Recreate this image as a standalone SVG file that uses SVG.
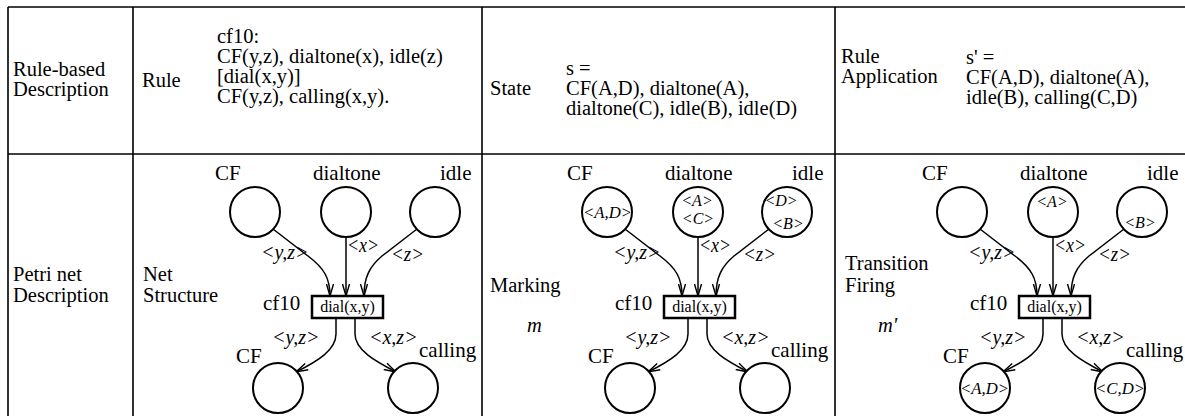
<svg xmlns="http://www.w3.org/2000/svg" width="1185" height="416" viewBox="0 0 1185 416">
<style>
text{font-family:"Liberation Serif","Times New Roman",serif;fill:#000}
.t{font-size:20.5px}
.lb{font-size:21px}
.el{font-size:20px;font-style:italic}
.tk{font-size:16px;font-style:italic}
.bx{font-size:16px}
.grid{stroke:#000;stroke-width:1.6;fill:none}
.pl{fill:#fff;stroke:#000;stroke-width:2}
.tr{fill:#fff;stroke:#000;stroke-width:2.5}
.arc{fill:none;stroke:#000;stroke-width:1.5;marker-end:url(#ah)}
</style>
<defs>
<marker id="ah" viewBox="-13 -6 15 12" refX="0" refY="0" markerWidth="15" markerHeight="12" orient="auto" markerUnits="userSpaceOnUse"><path d="M-12,-3.5 L0,0 L-12,3.5" fill="none" stroke="#000" stroke-width="1.4"/></marker>
</defs>
<g id="table">
<path class="grid" d="M8 7H1185" stroke-width="3"/>
<path class="grid" d="M8 7V416M133 7V416M482 7V416M835 7V416M8 154H1185"/>
</g>
<g id="row1">
<text class="t" x="13" y="76">Rule-based</text>
<text class="t" x="13" y="96">Description</text>
<text class="t" x="142" y="87">Rule</text>
<text class="t" x="217" y="43">cf10:</text>
<text class="t" x="217" y="63">CF(y,z), dialtone(x), idle(z)</text>
<text class="t" x="217" y="83">[dial(x,y)]</text>
<text class="t" x="217" y="103">CF(y,z), calling(x,y).</text>
<text class="t" x="490" y="95">State</text>
<text class="t" x="566" y="75">s =</text>
<text class="t" x="566" y="95">CF(A,D), dialtone(A),</text>
<text class="t" x="566" y="115">dialtone(C), idle(B), idle(D)</text>
<text class="t" x="841" y="63">Rule</text>
<text class="t" x="841" y="83">Application</text>
<text class="t" x="966" y="64">s' =</text>
<text class="t" x="966" y="84">CF(A,D), dialtone(A),</text>
<text class="t" x="966" y="104">idle(B), calling(C,D)</text>
</g>
<g id="row2-labels">
<text class="t" x="13" y="281">Petri net</text>
<text class="t" x="13" y="302">Description</text>
<text class="t" x="143" y="281">Net</text>
<text class="t" x="143" y="302">Structure</text>
<text class="t" x="490" y="292">Marking</text>
<text class="t" x="527" y="332" font-style="italic" font-size="20">m</text>
<text class="t" x="845" y="270">Transition</text>
<text class="t" x="845" y="292">Firing</text>
<text class="t" x="878" y="332" font-style="italic" font-size="20">m'</text>
</g>
<!-- Panel 1 -->
<g id="panel1" transform="translate(-352,0)">
<g id="p1-connectors">
<path class="arc" d="M625 229L660 256C676 268 682 278 682 296"/>
<path class="arc" d="M698 237L698 296"/>
<path class="arc" d="M769 229L734 256C721 267 716 278 716 296"/>
<path class="arc" d="M688 318L688 334C688 350 670 361 648 372"/>
<path class="arc" d="M707 318L707 334C707 350 727 361 748 372"/>
<text class="el" x="613" y="259">&lt;y,z&gt;</text>
<text class="el" x="699" y="252" textLength="32" lengthAdjust="spacingAndGlyphs">&lt;x&gt;</text>
<text class="el" x="743" y="261" textLength="33" lengthAdjust="spacingAndGlyphs">&lt;z&gt;</text>
<text class="el" x="624" y="344">&lt;y,z&gt;</text>
<text class="el" x="721" y="344">&lt;x,z&gt;</text>
</g>
<g id="p1-cf-in"><circle class="pl" cx="607" cy="212" r="25"/><text class="lb" x="567" y="180">CF</text></g>
<g id="p1-dialtone"><circle class="pl" cx="698" cy="212" r="25"/><text class="lb" x="665" y="180">dialtone</text></g>
<g id="p1-idle"><circle class="pl" cx="787" cy="212" r="25"/><text class="lb" x="792" y="180">idle</text></g>
<g id="p1-cf10"><rect class="tr" x="664" y="296" width="71" height="22"/><text class="bx" x="699.5" y="312" text-anchor="middle">dial(x,y)</text><text class="lb" x="615" y="310">cf10</text></g>
<g id="p1-cf-out"><circle class="pl" cx="630" cy="388" r="25"/><text class="lb" x="588" y="363">CF</text></g>
<g id="p1-calling"><circle class="pl" cx="765" cy="388" r="25"/><text class="lb" x="771" y="357">calling</text></g>
</g>
<!-- Panel 2 -->
<g id="panel2">
<g id="p2-connectors">
<path class="arc" d="M625 229L660 256C676 268 682 278 682 296"/>
<path class="arc" d="M698 237L698 296"/>
<path class="arc" d="M769 229L734 256C721 267 716 278 716 296"/>
<path class="arc" d="M688 318L688 334C688 350 670 361 648 372"/>
<path class="arc" d="M707 318L707 334C707 350 727 361 748 372"/>
<text class="el" x="613" y="259">&lt;y,z&gt;</text>
<text class="el" x="699" y="252" textLength="32" lengthAdjust="spacingAndGlyphs">&lt;x&gt;</text>
<text class="el" x="743" y="261" textLength="33" lengthAdjust="spacingAndGlyphs">&lt;z&gt;</text>
<text class="el" x="624" y="344">&lt;y,z&gt;</text>
<text class="el" x="721" y="344">&lt;x,z&gt;</text>
</g>
<g id="p2-cf-in"><circle class="pl" cx="607" cy="212" r="25"/><text class="lb" x="567" y="180">CF</text><text class="tk" x="583" y="218" textLength="49" lengthAdjust="spacingAndGlyphs">&lt;A,D&gt;</text></g>
<g id="p2-dialtone"><circle class="pl" cx="698" cy="212" r="25"/><text class="lb" x="665" y="180">dialtone</text><text class="tk" x="697" y="206" text-anchor="middle">&lt;A&gt;</text><text class="tk" x="698" y="224" text-anchor="middle">&lt;C&gt;</text></g>
<g id="p2-idle"><circle class="pl" cx="787" cy="212" r="25"/><text class="lb" x="792" y="180">idle</text><text class="tk" x="781" y="206" text-anchor="middle">&lt;D&gt;</text><text class="tk" x="788" y="229" text-anchor="middle">&lt;B&gt;</text></g>
<g id="p2-cf10"><rect class="tr" x="664" y="296" width="71" height="22"/><text class="bx" x="699.5" y="312" text-anchor="middle">dial(x,y)</text><text class="lb" x="615" y="310">cf10</text></g>
<g id="p2-cf-out"><circle class="pl" cx="630" cy="388" r="25"/><text class="lb" x="588" y="363">CF</text></g>
<g id="p2-calling"><circle class="pl" cx="765" cy="388" r="25"/><text class="lb" x="771" y="357">calling</text></g>
</g>
<!-- Panel 3 -->
<g id="panel3" transform="translate(355,0)">
<g id="p3-connectors">
<path class="arc" d="M625 229L660 256C676 268 682 278 682 296"/>
<path class="arc" d="M698 237L698 296"/>
<path class="arc" d="M769 229L734 256C721 267 716 278 716 296"/>
<path class="arc" d="M688 318L688 334C688 350 670 361 648 372"/>
<path class="arc" d="M707 318L707 334C707 350 727 361 748 372"/>
<text class="el" x="613" y="259">&lt;y,z&gt;</text>
<text class="el" x="699" y="252" textLength="32" lengthAdjust="spacingAndGlyphs">&lt;x&gt;</text>
<text class="el" x="743" y="261" textLength="33" lengthAdjust="spacingAndGlyphs">&lt;z&gt;</text>
<text class="el" x="624" y="344">&lt;y,z&gt;</text>
<text class="el" x="721" y="344">&lt;x,z&gt;</text>
</g>
<g id="p3-cf-in"><circle class="pl" cx="607" cy="212" r="25"/><text class="lb" x="567" y="180">CF</text></g>
<g id="p3-dialtone"><circle class="pl" cx="698" cy="212" r="25"/><text class="lb" x="665" y="180">dialtone</text><text class="tk" x="697" y="207" text-anchor="middle">&lt;A&gt;</text></g>
<g id="p3-idle"><circle class="pl" cx="787" cy="212" r="25"/><text class="lb" x="792" y="180">idle</text><text class="tk" x="785" y="228" text-anchor="middle">&lt;B&gt;</text></g>
<g id="p3-cf10"><rect class="tr" x="664" y="296" width="71" height="22"/><text class="bx" x="699.5" y="312" text-anchor="middle">dial(x,y)</text><text class="lb" x="615" y="310">cf10</text></g>
<g id="p3-cf-out"><circle class="pl" cx="630" cy="388" r="25"/><text class="lb" x="588" y="363">CF</text><text class="tk" x="605" y="394" textLength="49" lengthAdjust="spacingAndGlyphs">&lt;A,D&gt;</text></g>
<g id="p3-calling"><circle class="pl" cx="765" cy="388" r="25"/><text class="lb" x="771" y="357">calling</text><text class="tk" x="740" y="394" textLength="50" lengthAdjust="spacingAndGlyphs">&lt;C,D&gt;</text></g>
</g>
</svg>
